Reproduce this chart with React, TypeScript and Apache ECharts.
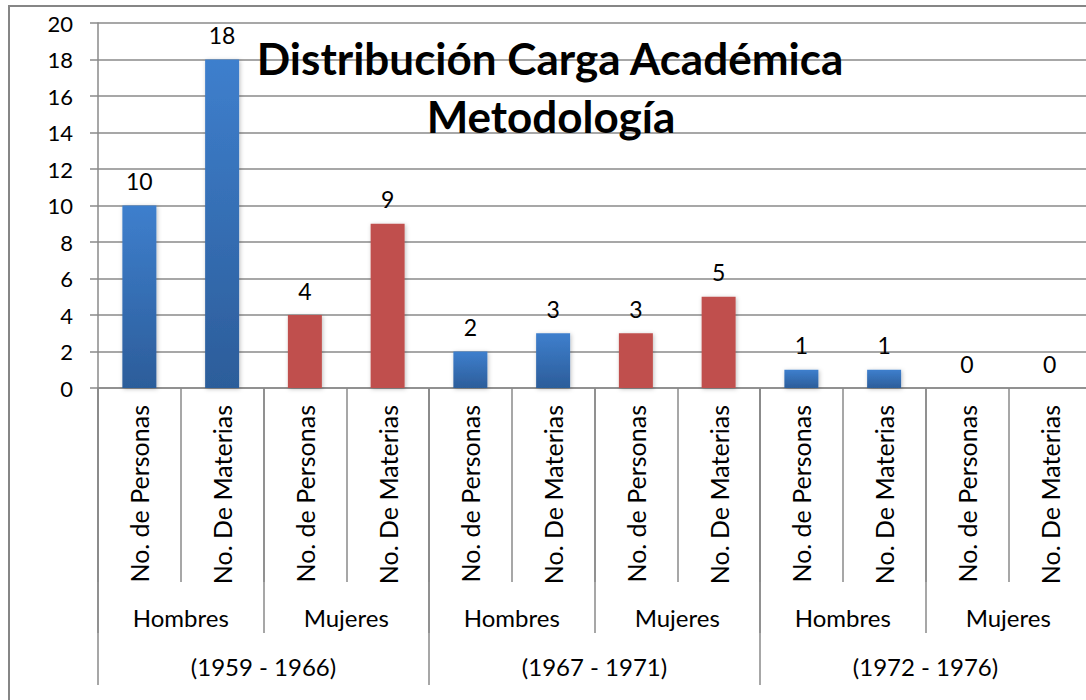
import React, { useEffect, useRef } from "react";
import * as echarts from "echarts";

const categories = [
  "No. de Personas", "No. De Materias", "No. de Personas", "No. De Materias",
  "No. de Personas", "No. De Materias", "No. de Personas", "No. De Materias",
  "No. de Personas", "No. De Materias", "No. de Personas", "No. De Materias",
];
const groups = ["Hombres", "Mujeres", "Hombres", "Mujeres", "Hombres", "Mujeres"];
const periods = ["(1959 - 1966)", "(1967 - 1971)", "(1972 - 1976)"];
const values = [10, 18, 4, 9, 2, 3, 3, 5, 1, 1, 0, 0];
const titleLines = ["Distribución Carga Académica", "Metodología"];

const FONT = "Lato";
const GRAY = "#8a8a8a";

export default function App() {
  const ref = useRef<HTMLDivElement>(null);
  useEffect(() => {
    if (!ref.current) return;
    const chart = echarts.init(ref.current, null, { renderer: "svg" });
    const blue = new echarts.graphic.LinearGradient(0, 0, 0, 1, [
      { offset: 0, color: "#3E7FCD" },
      { offset: 1, color: "#2C5D9A" },
    ]);
    const red = "#C0504D";
    const data = values.map((v, i) => ({
      value: v,
      itemStyle: { color: groups[Math.floor(i / 2)] === "Hombres" ? blue : red },
    }));
    chart.setOption({
      animation: false,
      grid: { left: 98, top: 23, right: 29, bottom: 332, containLabel: false },
      graphic: [
        {
          type: "rect",
          shape: { x: 9, y: 6, width: 1300, height: 900 },
          style: { fill: "none", stroke: "#868686", lineWidth: 2 },
          z: -10,
          silent: true,
        },
        {
          type: "text",
          x: 550,
          y: 58,
          style: {
            text: titleLines[0],
            fontFamily: FONT,
            fontWeight: "bold",
            fontSize: 44,
            fill: "#000",
            textAlign: "center",
            textVerticalAlign: "middle",
          },
          z: 100,
        },
        {
          type: "text",
          x: 551,
          y: 116,
          style: {
            text: titleLines[1],
            fontFamily: FONT,
            fontWeight: "bold",
            fontSize: 44,
            fill: "#000",
            textAlign: "center",
            textVerticalAlign: "middle",
          },
          z: 100,
        },
      ],
      yAxis: {
        type: "value",
        min: 0,
        max: 20,
        interval: 2,
        axisLine: { show: true, lineStyle: { color: GRAY, width: 1.5 } },
        axisTick: { show: true, length: 8, lineStyle: { color: GRAY, width: 1.5 } },
        splitLine: { show: true, lineStyle: { color: GRAY, width: 1.5 } },
        axisLabel: { margin: 25, fontFamily: FONT, fontSize: 22, color: "#000" },
      },
      xAxis: [
        {
          type: "category",
          data: categories,
          position: "bottom",
          axisLine: { show: true, lineStyle: { color: GRAY, width: 1.5 } },
          axisTick: { show: true, interval: 0, length: 194, lineStyle: { color: GRAY, width: 1.5 } },
          axisLabel: {
            interval: 0,
            rotate: 90,
            margin: 17,
            fontFamily: FONT,
            fontSize: 25,
            color: "#000",
          },
          splitLine: { show: false },
        },
        {
          type: "category",
          data: groups,
          position: "bottom",
          axisLine: { show: false },
          axisTick: { show: true, interval: 0, length: 245, lineStyle: { color: GRAY, width: 1.5 } },
          axisLabel: {
            interval: 0,
            margin: 229,
            verticalAlign: "middle",
            fontFamily: FONT,
            fontSize: 24,
            color: "#000",
          },
          splitLine: { show: false },
        },
        {
          type: "category",
          data: periods,
          position: "bottom",
          axisLine: { show: false },
          axisTick: { show: true, interval: 0, length: 297, lineStyle: { color: GRAY, width: 1.5 } },
          axisLabel: {
            interval: 0,
            margin: 278,
            verticalAlign: "middle",
            fontFamily: FONT,
            fontSize: 24,
            color: "#000",
          },
          splitLine: { show: false },
        },
      ],
      series: [
        {
          type: "bar",
          xAxisIndex: 0,
          yAxisIndex: 0,
          data,
          barWidth: 34,
          itemStyle: { shadowBlur: 4, shadowColor: "rgba(0,0,0,0.25)", shadowOffsetX: 1, shadowOffsetY: 1 },
          label: {
            show: true,
            position: "top",
            distance: 13,
            fontFamily: FONT,
            fontSize: 23,
            color: "#000",
          },
        },
      ],
    });
    return () => chart.dispose();
  }, []);
  return (
    <div style={{ position: "absolute", left: 0, top: 0, width: 1086, height: 700, overflow: "hidden", background: "#fff" }}>
      <div ref={ref} style={{ position: "absolute", left: 0, top: 0, width: 1120, height: 720 }} />
    </div>
  );
}
